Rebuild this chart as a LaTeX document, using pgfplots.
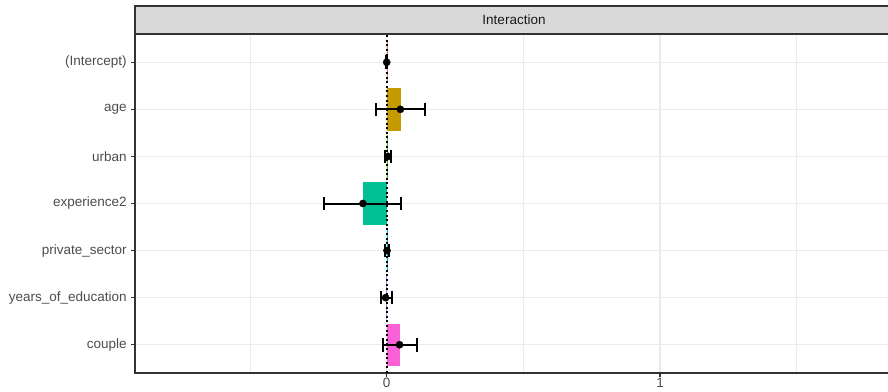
\documentclass[border=0pt]{standalone}
\usepackage{fontspec}
\setmainfont{Liberation Sans}
\usepackage{pgfplots}
\pgfplotsset{compat=1.18}
\usepackage{pgfplotstable}
\definecolor{ca}{HTML}{F8766D}
\definecolor{cb}{HTML}{C49A00}
\definecolor{cc}{HTML}{53B400}
\definecolor{cd}{HTML}{00C094}
\definecolor{ce}{HTML}{00B6EB}
\definecolor{cf}{HTML}{A58AFF}
\definecolor{cg}{HTML}{FB61D7}
\definecolor{gridc}{HTML}{EBEBEB}
\definecolor{gtwenty}{HTML}{333333}
\definecolor{gthirty}{HTML}{4D4D4D}
\definecolor{stripc}{HTML}{D9D9D9}
\pgfplotstableread{
y est lo hi
7 0.000 -0.002 0.002
6 0.050 -0.040 0.140
5 0.005 -0.005 0.015
4 -0.087 -0.229 0.054
3 0.001 -0.006 0.009
2 -0.004 -0.022 0.018
1 0.047 -0.013 0.109
}\coefs
\pgfplotstablecreatecol[expr={\thisrow{hi}-\thisrow{est}}]{ep}\coefs
\pgfplotstablecreatecol[expr={\thisrow{est}-\thisrow{lo}}]{em}\coefs
\begin{document}
\fontsize{13.5}{16}\selectfont
\begin{tikzpicture}
\fill[white] (0,0) rectangle (888pt,391pt);
\begin{axis}[
  name=ax,
  at={(135pt,18pt)}, anchor=south west,
  scale only axis,
  width=758pt, height=339pt,
  xmin=-0.921, xmax=1.8525,
  ymin=0.4, ymax=7.6,
  xtick={0,1},
  minor xtick={-0.5,0.5,1.5},
  ytick={1,2,3,4,5,6,7},
  yticklabels={couple,years\_of\_education,private\_sector,experience2,urban,age,(Intercept)},
  xmajorgrids, xminorgrids, ymajorgrids,
  major grid style={color=gridc, line width=1.07pt},
  minor grid style={color=gridc, line width=0.55pt},
  axis line style={color=gtwenty, line width=1.07pt},
  tick align=outside,
  major tick length=3.6pt,
  minor tick length=0pt,
  tick style={color=gtwenty, line width=1.07pt},
  ticklabel style={color=gthirty, font=\fontsize{13.5}{16}\selectfont},
  /pgf/number format/assume math mode=true,
  xticklabel style={inner sep=1.5pt},
  clip=false,
  bar width=0.9, bar shift=0pt,
]
\addplot[xbar, fill=ca, draw=none] coordinates {(0.001,7)};
\addplot[xbar, fill=cb, draw=none] coordinates {(0.051,6)};
\addplot[xbar, fill=cc, draw=none] coordinates {(0.004,5)};
\addplot[xbar, fill=cd, draw=none] coordinates {(-0.088,4)};
\addplot[xbar, fill=ce, draw=none] coordinates {(0.002,3)};
\addplot[xbar, fill=cf, draw=none] coordinates {(-0.003,2)};
\addplot[xbar, fill=cg, draw=none] coordinates {(0.048,1)};
\addplot[black, line width=2pt, dash pattern=on 2pt off 2.6pt] coordinates {(0,0.4) (0,7.6)};
\addplot[only marks, mark=*, mark size=3.6pt, black,
  error bars/.cd, x dir=both, x explicit,
  error bar style={line width=2pt, black},
  error mark options={mark size=6.8pt, line width=2pt, black, rotate=90}]
  table[x=est, y=y, x error plus=ep, x error minus=em] {\coefs};
\end{axis}
\draw[fill=stripc, draw=gtwenty, line width=1.1pt] (ax.north west) rectangle ([yshift=28pt]ax.north east);
\node[text=black!90] at ([yshift=14pt]ax.north) {Interaction};
\pgfresetboundingbox
\useasboundingbox (0,0) rectangle (888pt,391pt);
\end{tikzpicture}
\end{document}
